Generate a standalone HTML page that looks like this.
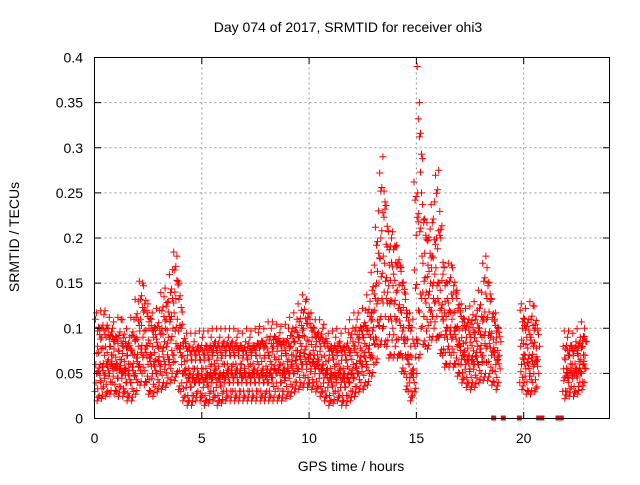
<!DOCTYPE html>
<html><head><meta charset="utf-8"><style>
body{margin:0;background:#fff;}
svg text{font-family:"Liberation Sans",sans-serif;font-size:14px;fill:#000;}
</style></head><body>
<svg id="chart" width="640" height="480" xmlns="http://www.w3.org/2000/svg">
<rect width="640" height="480" fill="#fff"/>
<text x="348" y="32" text-anchor="middle">Day 074 of 2017, SRMTID for receiver ohi3</text>
<text x="351" y="471" text-anchor="middle">GPS time / hours</text>
<text transform="translate(19,237) rotate(-90)" text-anchor="middle">SRMTID / TECUs</text>
<g id="grid"></g>
<g id="marks"></g>
<rect x="94.5" y="57.5" width="515" height="361" fill="none" stroke="#000" stroke-width="1"/>
<g id="ticks"></g>
</svg>
<script>
const hours=[0,0.2,0.4,0.6,0.8,1,1.2,1.4,1.6,1.8,2,2.2,2.4,2.6,2.8,3,3.2,3.4,3.6,3.8,4,4.2,4.4,4.6,4.8,5,5.2,5.4,5.6,5.8,6,6.2,6.4,6.6,6.8,7,7.2,7.4,7.6,7.8,8,8.2,8.4,8.6,8.8,9,9.2,9.4,9.6,9.8,10,10.2,10.4,10.6,10.8,11,11.2,11.4,11.6,11.8,12,12.2,12.4,12.6,12.8,13,13.2,13.4,13.6,13.8,14,14.2,14.4,14.6,14.8,15,15.2,15.4,15.6,15.8,16,16.2,16.4,16.6,16.8,17,17.2,17.4,17.6,17.8,18,18.2,18.4,18.6,18.8,19.8,20,20.2,20.4,20.6,21.8,22,22.2,22.4,22.6,22.8];
const valsLow=[.03,.025,.035,.03,.04,.03,.035,.03,.025,.03,.04,.05,.04,.03,.035,.04,.04,.045,.05,.05,.03,.025,.02,.025,.03,.025,.02,.03,.025,.02,.03,.025,.03,.025,.03,.025,.03,.025,.03,.025,.03,.025,.03,.025,.03,.03,.035,.04,.04,.045,.04,.04,.035,.03,.025,.02,.03,.025,.02,.025,.03,.035,.04,.04,.05,.06,.08,.10,.08,.07,.08,.07,.05,.03,.025,.05,.10,.08,.09,.10,.09,.07,.06,.07,.06,.05,.045,.04,.04,.045,.05,.05,.05,.04,.04,.04,.04,.03,.04,.035,.03,.03,.035,.03,.04,.04];
const valsMidLow=[.05,.04,.05,.05,.055,.045,.05,.04,.04,.05,.06,.07,.06,.05,.05,.06,.06,.065,.07,.08,.05,.04,.035,.04,.04,.04,.035,.045,.04,.035,.045,.04,.045,.04,.045,.04,.045,.04,.045,.04,.04,.045,.05,.04,.045,.05,.05,.055,.06,.06,.055,.055,.05,.045,.04,.035,.045,.04,.035,.04,.045,.05,.06,.06,.07,.09,.11,.14,.11,.10,.11,.09,.07,.045,.04,.12,.14,.11,.12,.13,.12,.09,.08,.09,.08,.065,.06,.055,.06,.06,.07,.08,.07,.06,.055,.06,.055,.05,.06,.05,.045,.04,.05,.045,.05,.055];
const valsMid=[.06,.06,.07,.065,.07,.06,.065,.055,.06,.07,.08,.09,.08,.07,.065,.08,.085,.09,.10,.11,.06,.055,.05,.055,.05,.055,.05,.06,.055,.05,.06,.055,.06,.055,.06,.05,.06,.055,.06,.055,.055,.06,.065,.06,.055,.065,.07,.075,.08,.08,.07,.07,.065,.06,.055,.05,.06,.055,.05,.055,.06,.07,.075,.08,.09,.12,.15,.18,.14,.13,.14,.12,.09,.06,.055,.25,.18,.14,.15,.16,.15,.11,.10,.11,.10,.08,.075,.07,.075,.08,.09,.11,.09,.075,.07,.08,.07,.07,.08,.065,.055,.055,.06,.055,.065,.07];
const valsMidHigh=[.08,.09,.09,.08,.085,.075,.08,.07,.075,.09,.11,.12,.10,.09,.08,.10,.11,.11,.14,.15,.08,.07,.065,.07,.065,.07,.065,.075,.07,.07,.075,.07,.07,.075,.07,.065,.075,.07,.08,.07,.07,.08,.08,.075,.07,.08,.085,.09,.10,.105,.09,.085,.08,.08,.07,.065,.075,.07,.065,.075,.08,.09,.09,.10,.11,.15,.20,.24,.17,.16,.17,.15,.12,.08,.08,.35,.22,.17,.18,.20,.20,.13,.12,.14,.12,.10,.09,.09,.095,.10,.11,.15,.11,.09,.085,.10,.09,.09,.10,.08,.065,.07,.075,.07,.08,.085];
const valsHigh=[.11,.10,.115,.10,.10,.09,.11,.085,.09,.11,.13,.15,.12,.11,.10,.12,.135,.13,.165,.18,.10,.085,.08,.085,.08,.09,.08,.09,.085,.09,.085,.09,.085,.09,.08,.085,.09,.08,.095,.085,.09,.10,.09,.095,.085,.10,.10,.11,.12,.13,.11,.10,.095,.10,.085,.08,.09,.085,.08,.095,.10,.11,.10,.12,.13,.17,.23,.29,.19,.20,.19,.17,.14,.10,.11,.39,.25,.20,.21,.24,.275,.16,.15,.17,.14,.12,.11,.11,.115,.12,.14,.18,.13,.11,.10,.12,.11,.11,.125,.10,.08,.09,.08,.085,.09,.10];
const zeroHours=[18.6,19.05,19.8,20.7,20.85,21.6,21.75];
const xTicks=[0,5,10,15,20];
const yTicks=[0,0.05,0.1,0.15,0.2,0.25,0.3,0.35,0.4];
const yTickLabels=["0","0.05","0.1","0.15","0.2","0.25","0.3","0.35","0.4"];

const NS="http://www.w3.org/2000/svg";
const X0=94.5,XW=515,XMAX=24,Y0=418.5,YH=361,YMAX=0.4;
function xs(h){return X0+h/XMAX*XW;}
function ys(v){return Y0-v/YMAX*YH;}
const grid=document.getElementById('grid'),ticks=document.getElementById('ticks'),marks=document.getElementById('marks');
function mk(tag,attrs,parent){const e=document.createElementNS(NS,tag);for(const k in attrs)e.setAttribute(k,attrs[k]);parent.appendChild(e);return e;}
xTicks.forEach(t=>{
  const x=xs(t);
  if(t>0){const g=mk('line',{x1:x,x2:x,y1:57.5,y2:418.5,stroke:'#999','stroke-dasharray':'2,3'},grid);
  
  }
  mk('line',{x1:x,x2:x,y1:418.5,y2:412,stroke:'#000'},ticks);
  mk('line',{x1:x,x2:x,y1:57.5,y2:64,stroke:'#000'},ticks);
  const tx=mk('text',{x:x,y:443,'text-anchor':'middle'},ticks);tx.textContent=t;
  
  
});
yTicks.forEach((v,i)=>{
  const y=ys(v);
  if(v>0&&v<YMAX){const g=mk('line',{x1:94.5,x2:609.5,y1:y,y2:y,stroke:'#999','stroke-dasharray':'2,3'},grid);
  
  }
  mk('line',{x1:94.5,x2:101,y1:y,y2:y,stroke:'#000'},ticks);
  mk('line',{x1:609.5,x2:603,y1:y,y2:y,stroke:'#000'},ticks);
  const tx=mk('text',{x:83,y:y+5,'text-anchor':'end'},ticks);tx.textContent=yTickLabels[i];
  
  
});
const series=[valsLow,valsMidLow,valsMid,valsMidHigh,valsHigh];
const offs=[0.02,0.1,0.06,0.14,0.04];
let d='';
function plus(x,y){d+=`M${(x-3.5).toFixed(1)} ${y.toFixed(1)}h7M${x.toFixed(1)} ${(y-3.5).toFixed(1)}v7`;}
series.forEach((arr,k)=>{
  hours.forEach((h,i)=>{
    plus(xs(h+offs[k]),ys(arr[i]));
    if(i+1<hours.length&&hours[i+1]-h<0.3){
      const m=(arr[i]+arr[i+1])/2;
      plus(xs(h+offs[k]+0.1),ys(m+(k%2?0.008:-0.008)));
      plus(xs(h+offs[k]+0.05),ys(m+(k%2?-0.012:0.012)));
      plus(xs(h+offs[k]+0.15),ys(m+(k%2?0.003:-0.004)));
    }
  });
});
const p=mk('path',{d:d,stroke:'#f00','stroke-width':1,fill:'none'},marks);


zeroHours.forEach(h=>{
  const r=mk('rect',{x:xs(h)-2.5,y:ys(0)-3,width:5,height:5,fill:'#f00'},marks);
  
  
});
</script>
</body></html>
